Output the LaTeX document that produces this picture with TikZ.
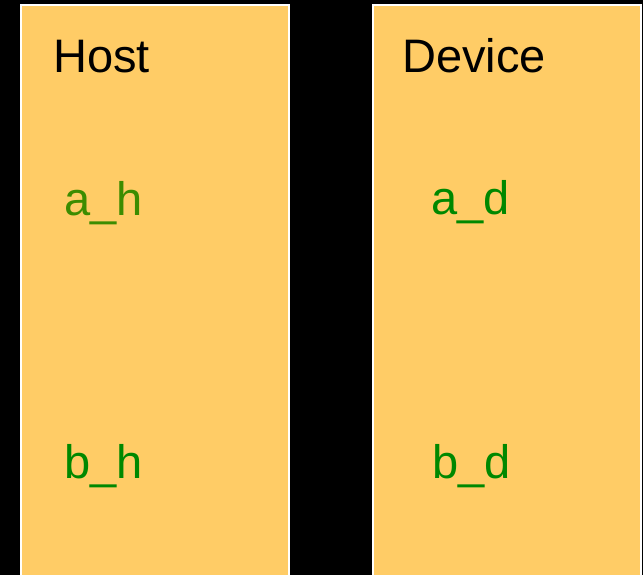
\documentclass[tikz,border=0pt]{standalone}
\usepackage{fontspec}
\setmainfont{Liberation Sans}
\definecolor{panelfill}{RGB}{255,204,102}
\definecolor{olivegreen}{RGB}{60,140,0}
\definecolor{vargreen}{RGB}{0,136,0}
\tikzset{
  panel/.style={draw=white, line width=1.2pt, fill=panelfill},
  title/.style={anchor=base west, inner sep=0pt, font=\fontsize{47}{47}\selectfont, text=black},
  varlabel/.style={anchor=base west, inner sep=0pt, font=\fontsize{47}{47}\selectfont, text=vargreen}
}
\begin{document}
\begin{tikzpicture}[x=1pt,y=-1pt]
\fill[black] (0,0) rectangle (643,575);
\useasboundingbox (0,0) rectangle (643,575);
\begin{scope}
\clip (0,0) rectangle (643,575);
\draw[panel] (21,5) rectangle (289,590);
\draw[panel] (373,5) rectangle (641,590);
\end{scope}
\node[title] (host) at (53,73) {Host};
\node[title] (device) at (402,73) {Device};
\node[varlabel, text=olivegreen] (ah) at (64,215) {a\_h};
\node[varlabel] (bh) at (64,478) {b\_h};
\node[varlabel] (ad) at (431.5,214.5) {a\_d};
\node[varlabel] (bd) at (432,478) {b\_d};
\end{tikzpicture}
\end{document}
